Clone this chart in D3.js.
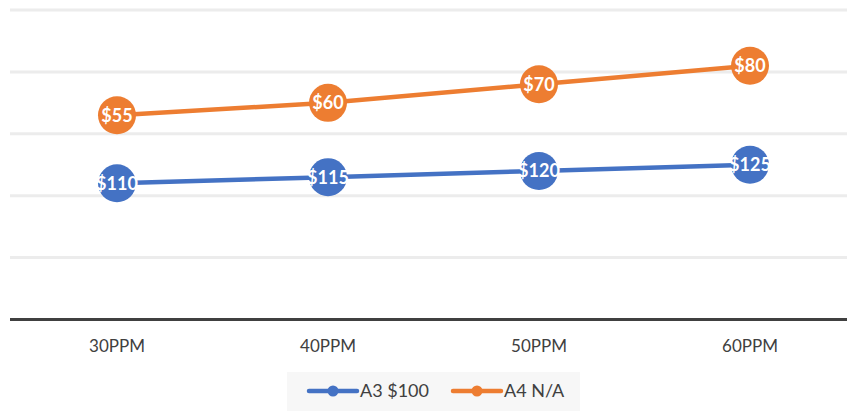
<!DOCTYPE html>
<html><head><meta charset="utf-8">
<script src="https://cdn.jsdelivr.net/npm/d3@7"></script>
<style>body{margin:0;background:#fff;}svg{display:block;font-family:Lato,"Open Sans",sans-serif;}</style>
</head><body><svg id="c" width="847" height="411"></svg>
<script>
const categories = ["30PPM","40PPM","50PPM","60PPM"];
const seriesNames = ["A3 $100","A4 N/A"];
const a3Values = [110,115,120,125];
const a4Values = [55,60,70,80];
const yTicks = [0,50,100,150,200,250];
const colors = ["#4472C4","#ED7D31"];

const svg = d3.select("#c");
const x = d3.scaleBand().domain(categories).range([11.5,855.5]);
const y = d3.scaleLinear().domain([0,250]).range([319.5,10]);

// gridlines
svg.append("g").selectAll("line").data(yTicks.filter(d=>d>0)).join("line")
  .attr("x1",10).attr("x2",847).attr("y1",d=>y(d)).attr("y2",d=>y(d))
  .attr("stroke","#ececec").attr("stroke-width",3);

// x axis
const xAxis = svg.append("g").attr("transform",`translate(0,${y(0)})`)
  .call(d3.axisBottom(x).tickSize(0).tickPadding(20));
xAxis.select(".domain").attr("d","M10,0H847").attr("stroke","#404040").attr("stroke-width",3);
xAxis.selectAll("text").attr("font-size",17).attr("fill","#404040").attr("font-family","Lato,'Open Sans',sans-serif");

// stacked data
const stackedA3 = a3Values.map((v,i)=>({cat:categories[i],val:v,top:v}));
const stackedA4 = a4Values.map((v,i)=>({cat:categories[i],val:v,top:v+a3Values[i]}));
const series = [stackedA3, stackedA4];
const line = d3.line().x(d=>x(d.cat)+x.bandwidth()/2).y(d=>y(d.top));

series.forEach((s,k)=>{
  svg.append("path").datum(s).attr("d",line).attr("fill","none")
    .attr("stroke",colors[k]).attr("stroke-width",4.5).attr("stroke-linecap","round");
});
series.forEach((s,k)=>{
  const g = svg.append("g");
  g.selectAll("circle").data(s).join("circle")
    .attr("cx",d=>x(d.cat)+x.bandwidth()/2).attr("cy",d=>y(d.top)).attr("r",19)
    .attr("fill",colors[k]);
  g.selectAll("text").data(s).join("text")
    .attr("x",d=>x(d.cat)+x.bandwidth()/2).attr("y",d=>y(d.top)).attr("dy","0.36em")
    .attr("text-anchor","middle").attr("fill","#fff").attr("font-weight","bold")
    .attr("font-size",18).text(d=>"$"+d.val);
});

// legend
const lg = svg.append("g");
lg.append("rect").attr("x",287).attr("y",372).attr("width",293).attr("height",39).attr("fill","#f7f7f7");
const items = lg.selectAll("g.item").data(seriesNames).join("g").attr("class","item")
  .attr("transform",(d,i)=>`translate(${309+i*144},391)`);
items.append("line").attr("x1",0).attr("x2",48).attr("stroke",(d,i)=>colors[i]).attr("stroke-width",4.5).attr("stroke-linecap","round");
items.append("circle").attr("cx",24).attr("r",5.5).attr("fill",(d,i)=>colors[i]);
items.append("text").attr("x",51).attr("dy","0.36em").attr("font-size",18).attr("fill","#404040").text(d=>d);
</script></body></html>
